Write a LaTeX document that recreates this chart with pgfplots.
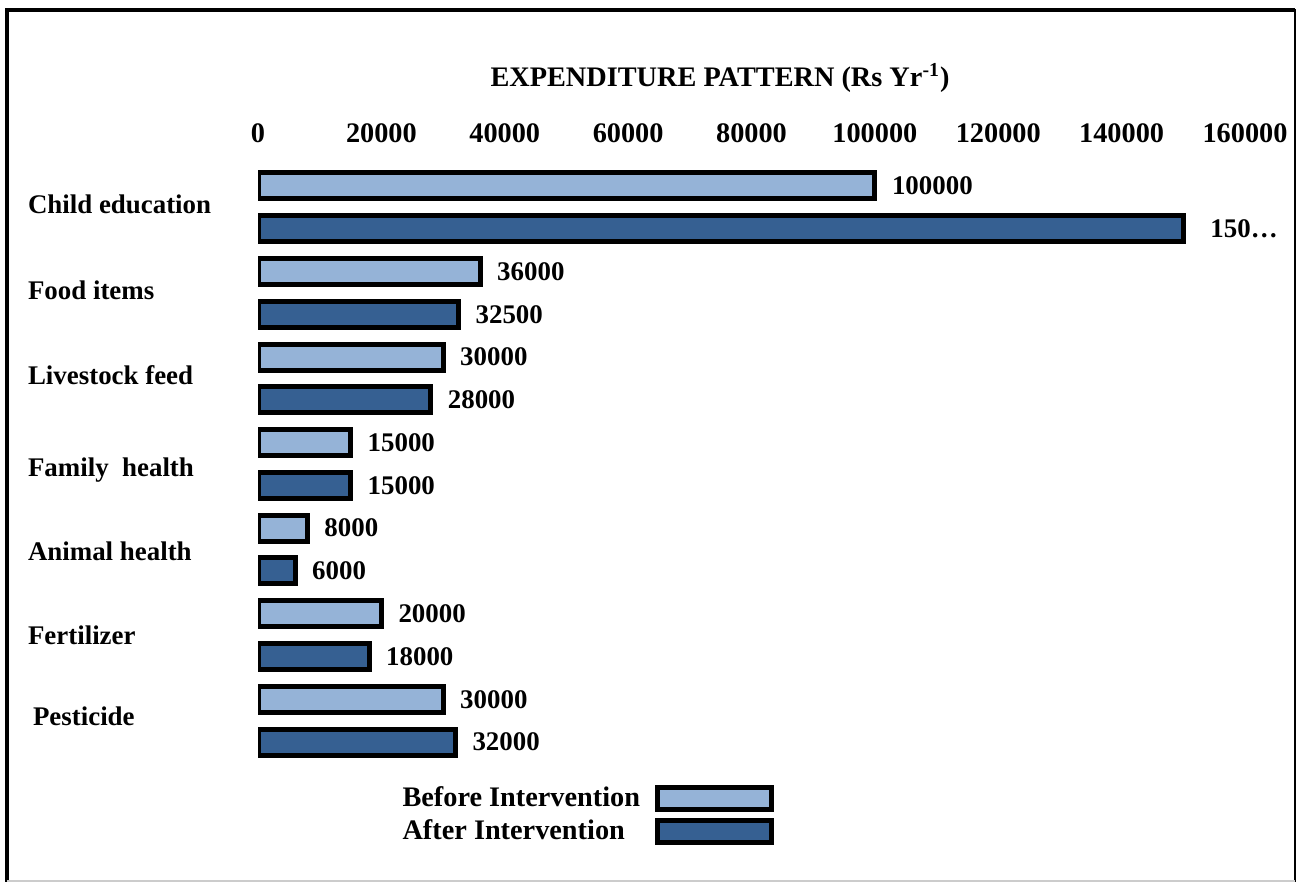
\documentclass[border=0pt]{standalone}
\usepackage{pgfplots}
\pgfplotsset{compat=1.18}
\usepackage{fontspec}
\setmainfont{Liberation Serif}
\definecolor{lightb}{HTML}{95B3D7}
\definecolor{darkb}{HTML}{366092}
\newcommand{\lf}{\bfseries\fontsize{13.5}{16}\selectfont}
\newcommand{\tf}{\bfseries\fontsize{14.2}{17}\selectfont}
\begin{document}
\begin{tikzpicture}
\begin{scope}[x=0.5bp,y=-0.5bp]
\draw[line width=2.2bp] (7,882) -- (7,10) -- (1295,10);
\draw[line width=1.4bp] (1295,9) -- (1295,882);
\draw[gray!40,line width=0.6bp] (7,881) -- (1295,881);
\node[font=\tf] at (720,78) {EXPENDITURE PATTERN (Rs Yr\textsuperscript{-1})};
\end{scope}
\begin{axis}[
  at={(129bp,-82.3bp)}, anchor=north west,
  scale only axis, width=493.5bp, height=299.4bp,
  xbar, bar width=13bp, bar shift=0pt,
  xmin=0, xmax=160000,
  ymin=-0.5, ymax=13.5, y dir=reverse,
  axis line style={draw=none},
  major tick length=0pt,
  xtick={0,20000,40000,60000,80000,100000,120000,140000,160000},
  xticklabels={0,20000,40000,60000,80000,100000,120000,140000,160000},
  xticklabel pos=upper,
  scaled ticks=false,
  xticklabel style={font=\tf, yshift=7.5bp},
  ytick={0.44,2.43,4.42,6.64,8.53,10.5,12.39},
  yticklabels={Child education,Food items,Livestock feed,Family\ \ health,Animal health,Fertilizer,\hspace{2.5bp}Pesticide},
  yticklabel style={font=\lf, anchor=west, xshift=-118.5bp},
  point meta=explicit symbolic,
  nodes near coords={\pgfplotspointmeta},
  nodes near coords style={font=\lf, anchor=west, xshift=4bp},
  legend plot pos=right,
  legend cell align=left,
  legend style={draw=none, fill=none, font=\tf, at={(axis description cs:0.142,-0.032)}, anchor=north west, row sep=1bp, column sep=5.5bp, inner sep=0pt},
  legend image code/.code={\draw[#1, line width=2.5bp] (0bp,-5.5bp) rectangle (57bp,5.5bp);},
]
\addplot[fill=lightb, draw=black, line width=2.5bp] coordinates {
 (100000,0) [100000]
 (36000,2) [36000]
 (30000,4) [30000]
 (15000,6) [15000]
 (8000,8) [8000]
 (20000,10) [20000]
 (30000,12) [30000]
};
\addplot[fill=darkb, draw=black, line width=2.5bp] coordinates {
 (150000,1) [\hspace{5bp}150…]
 (32500,3) [32500]
 (28000,5) [28000]
 (15000,7) [15000]
 (6000,9) [6000]
 (18000,11) [18000]
 (32000,13) [32000]
};
\legend{Before Intervention,After Intervention}
\end{axis}
\pgfresetboundingbox
\path[use as bounding box] (0bp,0bp) rectangle (648.5bp,-441bp);
\end{tikzpicture}
\end{document}
